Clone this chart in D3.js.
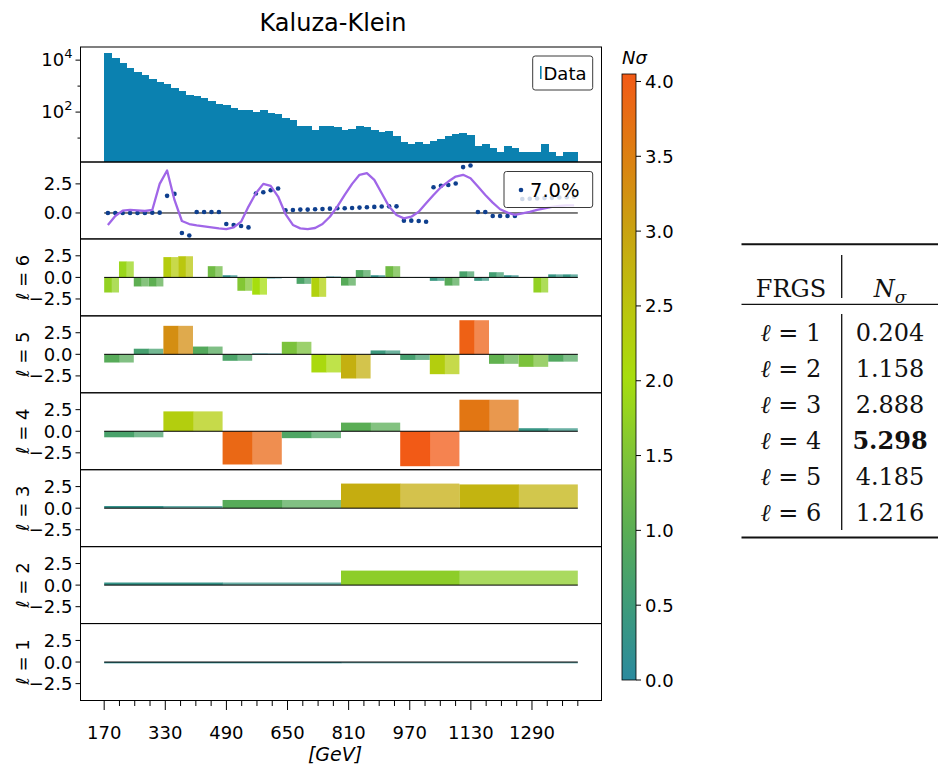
<!DOCTYPE html>
<html><head><meta charset="utf-8">
<script src="https://cdn.jsdelivr.net/npm/d3@7/dist/d3.min.js"></script>
<style>body{margin:0;background:#fff}</style>
</head><body><svg id="c" width="938" height="767" xmlns="http://www.w3.org/2000/svg"></svg>
<script>
// ---------------- data ----------------
const massRange = [170, 1410];               // GeV
const histCounts = [18600,12300,7760,4900,3470,2630,1860,1410,1175,830,
  676,447,407,339,257,200,182,138,117,117,
  100,117,89,81,58,48,30,30,20,30,
  30,26,20,23,30,26,20,17,18,12,
  7,6,7,6,8,9,12,14,15,13,
  5,6,4,3,5,4,3,3,3,6,
  3,2,3,3];
const ratioDots = [0,0,0,0,0,0,0.03,0.03,1.47,1.64,
  -1.72,-1.93,0.09,0.09,0.09,0.09,-0.95,-1.03,-1.12,-1.24,
  1.67,1.78,1.95,2.1,0.23,0.26,0.29,0.29,0.32,0.34,
  0.37,0.4,0.4,0.43,0.46,0.49,0.52,0.55,0.57,0.57,
  -0.66,-0.66,-0.69,-0.75,2.21,2.33,2.41,2.53,3.94,4.08,
  0.09,0.09,-0.26,-0.26,-0.26,-0.26,1.2,1.22,1.25,1.28,
  1.3,1.33,1.36,1.4];
const ratioLine = [-1.03,-0.26,0.2,0.26,0.23,0.17,0.26,2.5,3.65,1.12,
  -0.69,-0.95,-1.06,-1.15,-1.24,-1.32,-1.38,-1.24,-0.75,0.55,
  1.7,2.5,2.33,1.41,-0.09,-1.03,-1.32,-1.38,-1.29,-0.95,
  -0.32,0.55,1.55,2.5,3.28,3.42,2.84,1.7,0.55,-0.17,
  -0.46,-0.32,0.11,0.83,1.55,2.21,2.7,3.13,3.28,2.99,
  2.27,1.55,0.89,0.32,0.03,-0.17,-0.03,0.09,0.26,0.4,
  0.52,0.6,0.66,0.66];
const levelL6 = [-1.75,1.85,-1.05,-1.05,2.35,2.45,0.02,1.3,0.25,-1.55,
  -2.0,-0.12,0.02,-0.75,-2.25,0.1,-0.95,0.85,0.25,1.3,
  0,0,-0.4,-0.95,0.7,-0.4,0.6,0.25,0,-1.75,0.35,0.35];
const levelL5 = [-0.95,0.65,3.3,0.9,-0.75,0.1,1.45,-2.1,-2.8,0.45,-0.65,-2.3,3.95,-1.1,-1.45,-0.85];
const levelL4 = [-0.7,2.3,-3.85,-0.8,1.0,-4.05,3.65,0.35];
const levelL3 = [0.25,0.95,2.85,2.75];
const levelL2 = [0.3,1.68];
const levelL1 = [-0.15];
const levelNames = [6,5,4,3,2,1];
const xTickStep = 40, xLabelEvery = 4;
const yTicksRatio = [0, 2.5];
const yTicksLevel = [-2.5, 0, 2.5];
const yTicksHistMajor = [100, 10000];
const yTicksHistMinor = [10, 1000];
const cbarTicks = [0,0.5,1,1.5,2,2.5,3,3.5,4];
const cbarMax = 4.05;
const legendHist = "Data";
const legendRatio = "7.0%";
const tableLevels = [1,2,3,4,5,6];
const tableValues = ["0.204","1.158","2.888","5.298","4.185","1.216"];
const tableBold = [false,false,false,true,false,false];

// ---------------- style ----------------
const FONT = "'DejaVu Sans', sans-serif";
const SERIF = "'DejaVu Serif', serif";
const HIST_COL = "#0b81b0";
const DOT_COL = "#0e3f8e";
const LINE_COL = "#a066e8";
const cmapPos = [0,0.5,1,1.5,2,2.5,3,3.5,4.05];
const cmapCol = ["#2b8a9e","#3e9b7a","#5aad55","#7fc438","#a6de0e","#bcc40e","#c9a311","#dc8012","#f25a16"];
const cmap = d3.scaleLinear().domain(cmapPos).range(cmapCol).clamp(true);

const svg = d3.select("#c");
const pad = (massRange[1]-massRange[0])*0.05;
const x = d3.scaleLinear().domain([massRange[0]-pad, massRange[1]+pad]).range([80.5, 601.5]);
const L = 80.5, R = 601.5;
const top0 = 47, histBot = 162, plotBot = 700.5;
const subH = (plotBot - histBot)/7;
const panelY = i => [histBot + i*subH, histBot + (i+1)*subH];

function fmt(d){ return (d<0?"\u2212":"") + Math.abs(d).toFixed(1); }

// ---------- histogram panel ----------
const yH = d3.scaleLog().domain([1.2, 32000]).range([histBot, top0]);
const nb = histCounts.length, bw = (massRange[1]-massRange[0])/nb;
const gH = svg.append("g").attr("shape-rendering","crispEdges");
gH.selectAll("rect").data(histCounts).join("rect")
  .attr("x", (d,i)=>x(massRange[0]+i*bw))
  .attr("width", (d,i)=>x(massRange[0]+(i+1)*bw)-x(massRange[0]+i*bw)+0.6)
  .attr("y", d=>yH(d))
  .attr("height", d=>histBot - yH(d))
  .attr("fill", HIST_COL);

yTicksHistMajor.forEach(v=>{
  const yy=yH(v);
  svg.append("line").attr("x1",L-5).attr("x2",L).attr("y1",yy).attr("y2",yy).attr("stroke","#000");
  const t=svg.append("text").attr("x",L-8).attr("y",yy+6).attr("text-anchor","end")
    .attr("font-family",FONT).attr("font-size",18);
  t.append("tspan").text("10");
  t.append("tspan").attr("dy",-8).attr("font-size",13).text(String(Math.round(Math.log10(v))));
});
yTicksHistMinor.forEach(v=>{
  const yy=yH(v);
  svg.append("line").attr("x1",L-3).attr("x2",L).attr("y1",yy).attr("y2",yy).attr("stroke","#000");
});

// ---------- ratio panel ----------
const [r0, r1] = panelY(0);
const yR = d3.scaleLinear().domain([-2.23, 4.38]).range([r1, r0]);
const centers = ratioDots.map((d,i)=>massRange[0]+(i+0.5)*bw);
svg.append("line").attr("x1",x(massRange[0])).attr("x2",x(massRange[1]))
  .attr("y1",yR(0)).attr("y2",yR(0)).attr("stroke","#000").attr("stroke-width",1);
svg.append("g").selectAll("circle").data(ratioDots).join("circle")
  .attr("cx",(d,i)=>x(centers[i])).attr("cy",d=>yR(d)).attr("r",2.3).attr("fill",DOT_COL);
svg.append("path").datum(ratioLine)
  .attr("d", d3.line().x((d,i)=>x(centers[i])).y(d=>yR(d)))
  .attr("fill","none").attr("stroke",LINE_COL).attr("stroke-width",2.3).attr("stroke-linejoin","round");

// ---------- level panels ----------
const levels = [levelL6, levelL5, levelL4, levelL3, levelL2, levelL1];
levels.forEach((vals, k)=>{
  const [p0,p1] = panelY(k+1);
  const yL = d3.scaleLinear().domain([-cbarMax*1.1, cbarMax*1.1]).range([p1,p0]);
  const w = (massRange[1]-massRange[0])/vals.length;
  const g = svg.append("g");
  vals.forEach((v,j)=>{
    const a = massRange[0]+j*w, m = a+w/2, b = a+w;
    const yt = yL(Math.max(v,0)), yb = yL(Math.min(v,0));
    const c = cmap(Math.abs(v));
    g.append("rect").attr("x",x(a)).attr("width",x(m)-x(a)+0.3).attr("y",yt).attr("height",Math.max(yb-yt,0.6)).attr("fill",c);
    g.append("rect").attr("x",x(m)).attr("width",x(b)-x(m)).attr("y",yt).attr("height",Math.max(yb-yt,0.6)).attr("fill",c).attr("fill-opacity",0.75);
  });
  g.append("line").attr("x1",x(massRange[0])).attr("x2",x(massRange[1]))
    .attr("y1",yL(0)).attr("y2",yL(0)).attr("stroke","#000").attr("stroke-width",1);
  yTicksLevel.forEach(t=>{
    const yy=yL(t);
    svg.append("line").attr("x1",L-5).attr("x2",L).attr("y1",yy).attr("y2",yy).attr("stroke","#000");
    svg.append("text").attr("x",L-8).attr("y",yy+6.5).attr("text-anchor","end")
      .attr("font-family",FONT).attr("font-size",18).text(fmt(t));
  });
  const cy=(p0+p1)/2;
  const lab=svg.append("text").attr("transform",`translate(29,${cy}) rotate(-90)`)
    .attr("text-anchor","middle").attr("font-family",FONT).attr("font-size",18);
  lab.append("tspan").attr("font-style","italic").text("\u2113");
  lab.append("tspan").text(" = "+levelNames[k]);
});

yTicksRatio.forEach(t=>{
  const yy=yR(t);
  svg.append("line").attr("x1",L-5).attr("x2",L).attr("y1",yy).attr("y2",yy).attr("stroke","#000");
  svg.append("text").attr("x",L-8).attr("y",yy+6.5).attr("text-anchor","end")
    .attr("font-family",FONT).attr("font-size",18).text(fmt(t));
});

// ---------- legends ----------
function legendBox(x0,y0,w,h){
  svg.append("rect").attr("x",x0).attr("y",y0).attr("width",w).attr("height",h).attr("rx",2.5)
    .attr("fill","#fff").attr("fill-opacity",0.8).attr("stroke","#3a3a3a").attr("stroke-width",1);
}
legendBox(532.7,56,60,34);
svg.append("rect").attr("x",540).attr("y",66).attr("width",1.6).attr("height",13).attr("fill",HIST_COL);
svg.append("text").attr("x",543.5).attr("y",80).attr("font-family",FONT).attr("font-size",18).text(legendHist);
legendBox(504,171.5,88.7,36);
svg.append("circle").attr("cx",521).attr("cy",190).attr("r",2.3).attr("fill",DOT_COL);
svg.append("text").attr("x",530).attr("y",197).attr("font-family",FONT).attr("font-size",19.5).text(legendRatio);

// ---------- frames ----------
svg.append("rect").attr("x",L).attr("y",top0).attr("width",R-L).attr("height",histBot-top0)
  .attr("fill","none").attr("stroke","#000").attr("stroke-width",1);
for(let i=0;i<7;i++){
  const [p0,p1]=panelY(i);
  svg.append("rect").attr("x",L).attr("y",p0).attr("width",R-L).attr("height",p1-p0)
    .attr("fill","none").attr("stroke","#000").attr("stroke-width",1);
}

// ---------- x axis ----------
const nT = Math.round((massRange[1]-massRange[0])/xTickStep)+1;
const xt = d3.range(nT).map(i=>massRange[0]+i*xTickStep);
xt.forEach((t,i)=>{
  const major = i%xLabelEvery===0;
  svg.append("line").attr("x1",x(t)).attr("x2",x(t)).attr("y1",plotBot).attr("y2",plotBot+(major?9.5:5.5))
    .attr("stroke","#000").attr("stroke-width",1);
  if(major) svg.append("text").attr("x",x(t)).attr("y",738.5).attr("text-anchor","middle")
    .attr("font-family",FONT).attr("font-size",18).text(t);
});
svg.append("text").attr("x",335).attr("y",760.5).attr("text-anchor","middle")
  .attr("font-family",FONT).attr("font-size",19).attr("font-style","italic").text("[GeV]");

// title
svg.append("text").attr("x",333).attr("y",31).attr("text-anchor","middle")
  .attr("font-family",FONT).attr("font-size",24).text("Kaluza-Klein");

// ---------- colorbar ----------
const cbX=622, cbW=14, cbTop=74, cbBot=680;
const yC = d3.scaleLinear().domain([0,cbarMax]).range([cbBot,cbTop]);
const defs=svg.append("defs");
const grad=defs.append("linearGradient").attr("id","cg").attr("x1",0).attr("y1",1).attr("x2",0).attr("y2",0);
d3.range(0,1.0001,0.05).forEach(f=>{
  grad.append("stop").attr("offset",f).attr("stop-color",cmap(f*cbarMax));
});
svg.append("rect").attr("x",cbX).attr("y",cbTop).attr("width",cbW).attr("height",cbBot-cbTop)
  .attr("fill","url(#cg)").attr("stroke","#000").attr("stroke-width",0.8);
cbarTicks.forEach(t=>{
  const yy=yC(t);
  svg.append("line").attr("x1",cbX+cbW).attr("x2",cbX+cbW+5).attr("y1",yy).attr("y2",yy).attr("stroke","#000");
  svg.append("text").attr("x",cbX+cbW+9).attr("y",yy+6.5).attr("font-family",FONT).attr("font-size",18).text(t.toFixed(1));
});
svg.append("text").attr("x",622).attr("y",64).attr("font-family",FONT).attr("font-size",18).attr("font-style","italic").text("N\u03c3");

// ---------- table ----------
const tg=svg.append("g").attr("font-family",SERIF).attr("font-size",24).attr("fill","#111");
tg.append("line").attr("x1",741.5).attr("x2",938).attr("y1",244.3).attr("y2",244.3).attr("stroke","#111").attr("stroke-width",2);
tg.append("line").attr("x1",741.5).attr("x2",938).attr("y1",304.3).attr("y2",304.3).attr("stroke","#111").attr("stroke-width",1.3);
tg.append("line").attr("x1",741.5).attr("x2",938).attr("y1",537.5).attr("y2",537.5).attr("stroke","#111").attr("stroke-width",2);
tg.append("line").attr("x1",841.7).attr("x2",841.7).attr("y1",255).attr("y2",298).attr("stroke","#111").attr("stroke-width",1.3);
tg.append("line").attr("x1",841.7).attr("x2",841.7).attr("y1",314).attr("y2",530).attr("stroke","#111").attr("stroke-width",1.3);
tg.append("text").attr("x",791).attr("y",297).attr("text-anchor","middle").text("FRGS");
const hn=tg.append("text").attr("x",890).attr("y",297).attr("text-anchor","middle");
hn.append("tspan").attr("font-style","italic").text("N");
hn.append("tspan").attr("font-style","italic").attr("font-size",17).attr("dy",6).text("\u03c3");
tableLevels.forEach((lv,i)=>{
  const by=340.5+36.1*i;
  const t=tg.append("text").attr("x",791).attr("y",by).attr("text-anchor","middle");
  t.append("tspan").attr("font-style","italic").text("\u2113");
  t.append("tspan").text(" = "+lv);
  tg.append("text").attr("x",890).attr("y",by).attr("text-anchor","middle")
    .attr("font-weight",tableBold[i]?"bold":"normal").text(tableValues[i]);
});
</script></body></html>
